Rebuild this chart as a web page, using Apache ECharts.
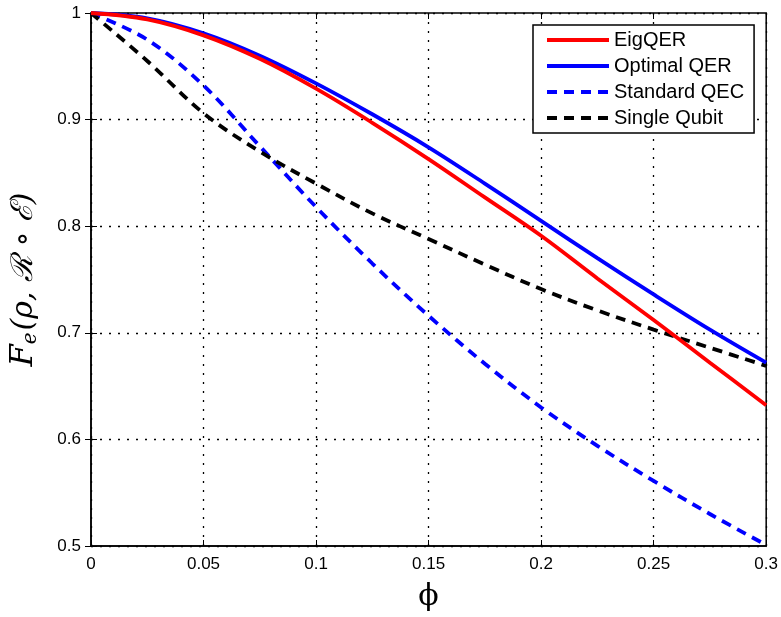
<!DOCTYPE html>
<html>
<head>
<meta charset="utf-8">
<script src="https://cdn.jsdelivr.net/npm/echarts@6/dist/echarts.min.js"></script>
<style>html,body{margin:0;padding:0;background:#fff}#c{width:781px;height:617px}</style>
</head>
<body>
<div id="c"></div>
<script>
const phi = [0, 0.025, 0.05, 0.075, 0.1, 0.125, 0.15, 0.175, 0.2, 0.225, 0.25, 0.275, 0.3];
const eigQER     = [1, 0.994, 0.979, 0.957, 0.929, 0.897, 0.863, 0.827, 0.791, 0.751, 0.712, 0.672, 0.632];
const optimalQER = [1, 0.995, 0.981, 0.960, 0.934, 0.905, 0.874, 0.840, 0.805, 0.770, 0.736, 0.703, 0.672];
const standardQEC= [1, 0.975, 0.932, 0.875, 0.818, 0.765, 0.716, 0.671, 0.630, 0.594, 0.561, 0.530, 0.501];
const singleQubit= [1, 0.955, 0.906, 0.870, 0.840, 0.812, 0.788, 0.764, 0.741, 0.721, 0.703, 0.686, 0.669];
const xTicks = [0, 0.05, 0.1, 0.15, 0.2, 0.25, 0.3];
const yTicks = [0.5, 0.6, 0.7, 0.8, 0.9, 1];

const pair = arr => phi.map((x, i) => [x, arr[i]]);
const chart = echarts.init(document.getElementById('c'));
const labelFont = {fontFamily: 'Liberation Sans, Arial', fontSize: 17, color: '#000'};
const grid = {type: [2, 7], color: '#000', width: 1.3};
const mkLine = (name, data, color, dashed, z) => ({
  name, type: 'line', data: pair(data), smooth: 0.35, symbol: 'none', z,
  lineStyle: {color, width: 3.8, type: dashed ? [10, 7] : 'solid'},
  itemStyle: {color}
});
chart.setOption({
  animation: false,
  backgroundColor: '#fff',
  grid: {left: 90, right: 13, top: 13, bottom: 69, show: true, borderColor: '#000', borderWidth: 1.5, backgroundColor: 'transparent'},
  legend: {
    orient: 'vertical', left: 533, top: 25,
    backgroundColor: '#fff', borderColor: '#000', borderWidth: 1.5,
    padding: [5, 10, 5, 12], itemGap: 6, itemWidth: 62, itemHeight: 18,
    itemStyle: {opacity: 0},
    lineStyle: {width: 4},
    textStyle: {fontFamily: 'Liberation Sans, Arial', fontSize: 20, lineHeight: 20, color: '#000'},
    data: ['EigQER', 'Optimal QER', 'Standard QEC', 'Single Qubit']
  },
  xAxis: [{
    type: 'value', min: 0, max: 0.3, interval: 0.05,
    name: 'ϕ', nameLocation: 'middle', nameGap: 36,
    nameTextStyle: {fontFamily: 'DejaVu Serif, Liberation Serif', fontSize: 30, color: '#000'},
    axisLine: {show: true, lineStyle: {color: '#000', width: 1.5}},
    axisTick: {show: true, inside: true, length: 6, lineStyle: {color: '#000'}},
    axisLabel: Object.assign({margin: 10, formatter: v => String(+v.toFixed(2))}, labelFont),
    splitLine: {show: true, lineStyle: grid}
  }, {
    type: 'value', min: 0, max: 0.3, interval: 0.05, position: 'top',
    axisLine: {show: false}, axisLabel: {show: false},
    axisTick: {show: true, inside: true, length: 6, lineStyle: {color: '#000'}},
    splitLine: {show: false}
  }],
  yAxis: [{
    type: 'value', min: 0.5, max: 1, interval: 0.1,
    name: '{f|F}{s|e}{n|(ρ, ℛ ∘ ℰ)}', nameLocation: 'middle', nameGap: 50, nameRotate: 90,
    nameTextStyle: {
      color: '#000',
      rich: {
        f: {fontFamily: 'DejaVu Serif', fontStyle: 'italic', fontSize: 32, color: '#000'},
        s: {fontFamily: 'DejaVu Serif', fontStyle: 'italic', fontSize: 20, color: '#000', verticalAlign: 'bottom', padding: [14, 2, 0, 0]},
        n: {fontFamily: 'DejaVu Serif', fontStyle: 'italic', fontSize: 30, color: '#000'}
      }
    },
    axisLine: {show: true, lineStyle: {color: '#000', width: 1.5}},
    axisTick: {show: true, inside: true, length: 6, lineStyle: {color: '#000'}},
    axisLabel: Object.assign({margin: 10, formatter: v => String(+v.toFixed(1))}, labelFont),
    splitLine: {show: true, lineStyle: grid}
  }, {
    type: 'value', min: 0.5, max: 1, interval: 0.1, position: 'right',
    axisLine: {show: false}, axisLabel: {show: false},
    axisTick: {show: true, inside: true, length: 6, lineStyle: {color: '#000'}},
    splitLine: {show: false}
  }],
  series: [
    mkLine('EigQER', eigQER, '#ff0000', false, 5),
    mkLine('Optimal QER', optimalQER, '#0000ff', false, 4),
    mkLine('Standard QEC', standardQEC, '#0000ff', true, 3),
    mkLine('Single Qubit', singleQubit, '#000000', true, 3)
  ]
});
</script>
</body>
</html>
